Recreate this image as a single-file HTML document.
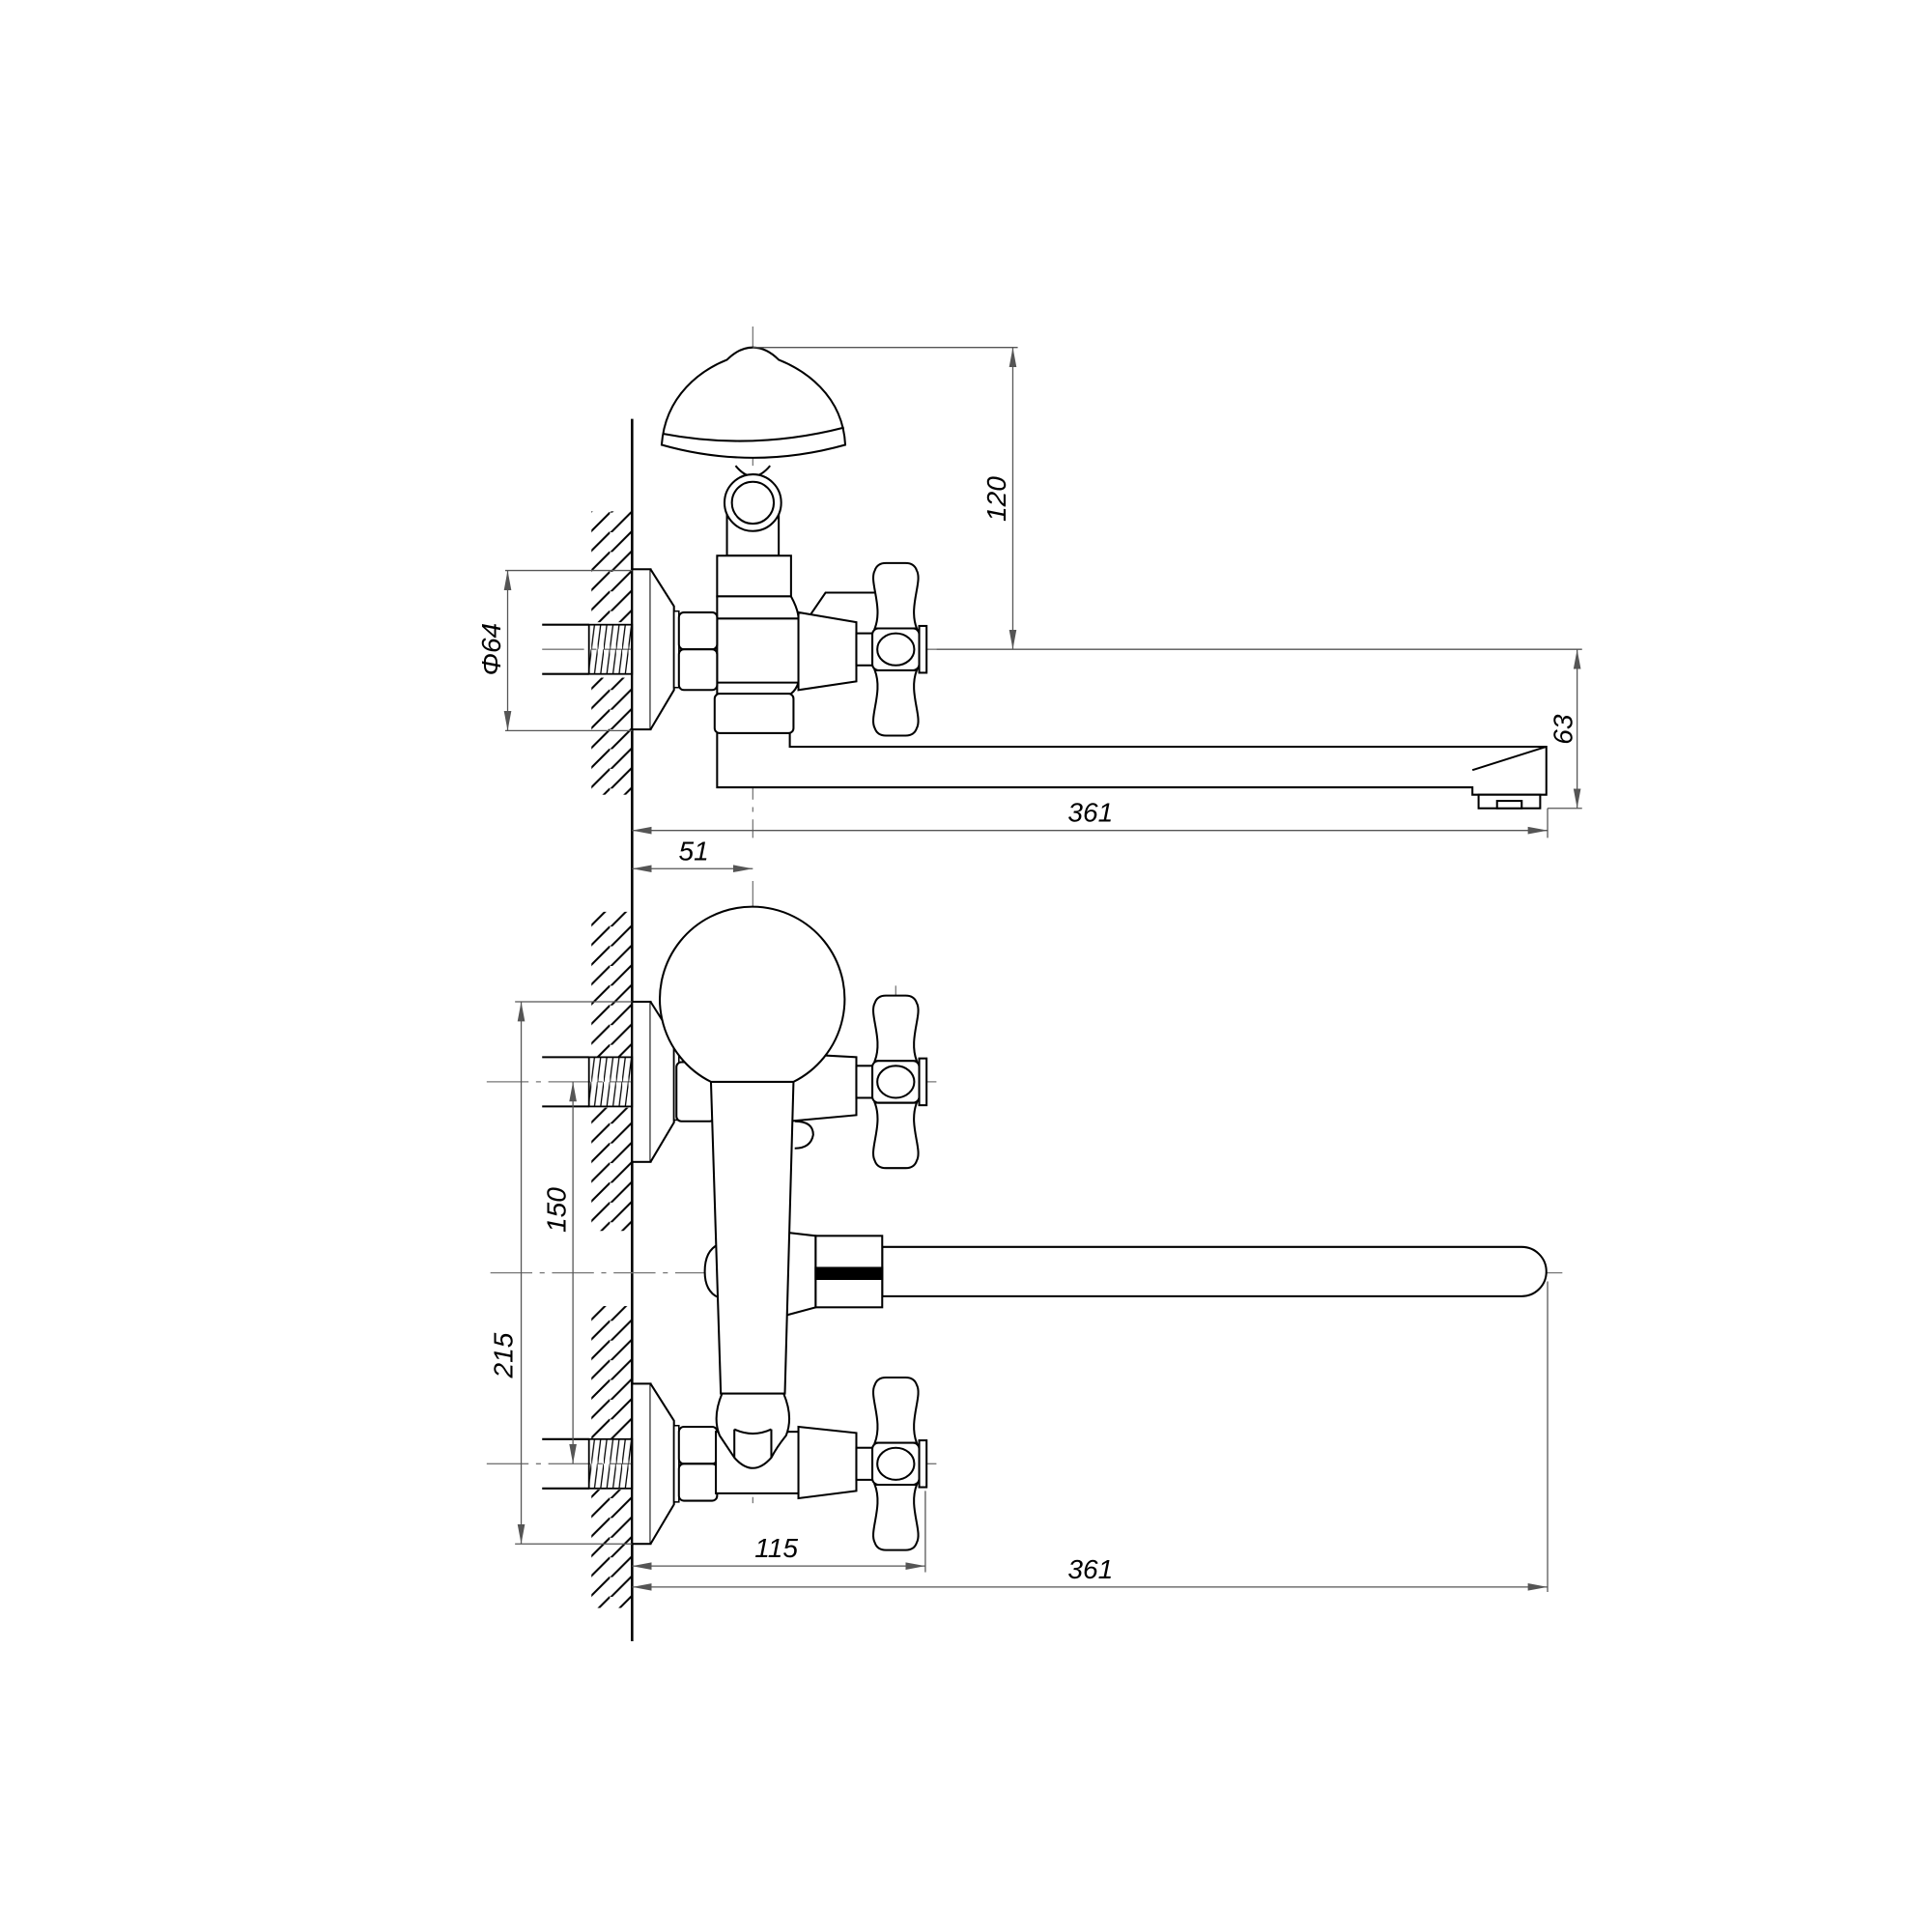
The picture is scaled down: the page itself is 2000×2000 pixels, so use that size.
<!DOCTYPE html>
<html><head><meta charset="utf-8"><style>html,body{margin:0;padding:0;background:#fff}svg{display:block}</style></head>
<body>
<svg width="2000" height="2000" viewBox="0 0 1568 1568" xmlns="http://www.w3.org/2000/svg">
<defs>
<pattern id="hat" patternUnits="userSpaceOnUse" width="33" height="16">
<line x1="0" y1="33" x2="33" y2="0" stroke="#000" stroke-width="1.6"/>
<line x1="0" y1="17" x2="33" y2="-16" stroke="#000" stroke-width="1.6"/>
<line x1="0" y1="49" x2="33" y2="16" stroke="#000" stroke-width="1.6"/>
</pattern>
<pattern id="thr" patternUnits="userSpaceOnUse" width="5" height="40">
<line x1="0" y1="40" x2="5" y2="0" stroke="#000" stroke-width="1"/>
</pattern>
<g id="cross">
<rect x="-32" y="-13" width="13" height="26" fill="#fff" stroke="#000" stroke-width="1.6"/>
<path d="M-17,-17 C-10,-35 -22,-55 -17,-64 Q-15,-70 -8,-70 L8,-70 Q15,-70 17,-64 C22,-55 10,-35 17,-17 Z" fill="#fff" stroke="#000" stroke-width="1.6"/>
<path d="M-17,17 C-10,35 -22,55 -17,64 Q-15,70 -8,70 L8,70 Q15,70 17,64 C22,55 10,35 17,17 Z" fill="#fff" stroke="#000" stroke-width="1.6"/>
<rect x="-19" y="-17" width="38" height="34" rx="5" fill="#fff" stroke="#000" stroke-width="1.6"/>
<ellipse cx="0" cy="0" rx="15" ry="13" fill="#fff" stroke="#000" stroke-width="1.6"/>
<rect x="19" y="-19" width="6" height="38" fill="#fff" stroke="#000" stroke-width="1.6"/>
</g>
<g id="esc">
<rect x="513" y="-65" width="15" height="130" fill="#fff" stroke="#000" stroke-width="1.6"/>
<path d="M528,-65 L547,-35 L547,33 L528,65" fill="#fff" stroke="#000" stroke-width="1.6"/>
<rect x="547" y="-31" width="4" height="62" fill="#fff" stroke="#000" stroke-width="1.2"/>
<rect x="478" y="-20" width="35" height="40" fill="url(#thr)" stroke="#000" stroke-width="1.4"/>
<line x1="440" y1="-20" x2="478" y2="-20" stroke="#000" stroke-width="1.6"/>
<line x1="440" y1="20" x2="478" y2="20" stroke="#000" stroke-width="1.6"/>
</g>
<marker id="ar" markerWidth="16" markerHeight="8" refX="16" refY="4" orient="auto-start-reverse" markerUnits="userSpaceOnUse"><path d="M0,1 L16,4 L0,7 Z" fill="#555"/></marker>
</defs>
<g fill="none" stroke="#000" stroke-width="1.6">
<!-- wall -->
<line x1="513" y1="340" x2="513" y2="1332" stroke-width="2"/>
</g>
<!-- hatching -->
<rect x="480" y="415" width="33" height="90" fill="url(#hat)"/>
<rect x="480" y="550" width="33" height="95" fill="url(#hat)"/>
<rect x="480" y="740" width="33" height="118" fill="url(#hat)"/>
<rect x="480" y="899" width="33" height="100" fill="url(#hat)"/>
<rect x="480" y="1060" width="33" height="108" fill="url(#hat)"/>
<rect x="480" y="1209" width="33" height="96" fill="url(#hat)"/>

<!-- centerlines -->
<g stroke="#777" stroke-width="1" fill="none" stroke-dasharray="34 6 4 6">
<line x1="611" y1="265" x2="611" y2="680"/>
<line x1="440" y1="527" x2="760" y2="527"/>
<line x1="611" y1="715" x2="611" y2="1220"/>
<line x1="395" y1="878" x2="760" y2="878"/>
<line x1="395" y1="1188" x2="760" y2="1188"/>
<line x1="398" y1="1033" x2="1268" y2="1033"/>
<line x1="727" y1="800" x2="727" y2="945"/>
</g>

<!-- TOP VIEW -->
<g transform="translate(0,527)"><use href="#esc"/></g>
<g fill="#fff" stroke="#000" stroke-width="1.6">
<!-- spout -->
<path d="M641,595 L641,606 L1255,606 L1255,645 L1195,645 L1195,639 L582,639 L582,595"/>
<line x1="1195" y1="625" x2="1255" y2="606"/>
<rect x="1200" y="645" width="50" height="11"/>
<rect x="1215" y="650" width="20" height="6"/>
<!-- stem & ring -->
<rect x="590" y="418" width="42" height="33"/>
<path d="M597,378 Q611,395 625,378"/>
<circle cx="611" cy="408" r="23"/>
<circle cx="611" cy="408" r="17"/>
<!-- dome -->
<path d="M537,361 C540,320 570,300 590,292 Q600,282 611,282 Q622,282 632,292 C652,300 684,320 686,361 Q611,382 537,361 Z"/>
<path d="M538,352 Q611,366 685,347" fill="none"/>
<!-- body -->
<rect x="582" y="451" width="60" height="33"/>
<path d="M582,484 L642,484 Q648,495 648,502 L648,554 Q646,560 642,563 L582,563 Z"/>
<rect x="580" y="563" width="64" height="32" rx="4"/>
<line x1="582" y1="502" x2="648" y2="502"/>
<line x1="582" y1="554" x2="648" y2="554"/>
<!-- nut -->
<rect x="551" y="497" width="31" height="30" rx="4"/>
<rect x="551" y="527" width="31" height="33" rx="4"/>
<!-- upper angled piece -->
<path d="M657,500 L670,481 L713,481"/>
<!-- valve cone -->
<path d="M648,497 L695,505 L695,553 L648,560 Z"/>
</g>
<g transform="translate(727,527)"><use href="#cross"/></g>

<!-- BOTTOM VIEW -->
<g transform="translate(0,878)"><use href="#esc"/></g>
<g transform="translate(0,1188)"><use href="#esc"/></g>
<g fill="#fff" stroke="#000" stroke-width="1.6">
<!-- spout -->
<path d="M716,1012 L1235,1012 A20,20 0 0 1 1235,1052 L716,1052 Z"/>
<path d="M636,1000 L662,1003 L662,1061 L636,1068 Z"/>
<rect x="662" y="1003" width="54" height="58"/>
<rect x="662" y="1029" width="54" height="9" fill="#000"/>
<!-- diverter knob -->
<path d="M583,1010 Q572,1015 572,1032 Q572,1048 583,1053"/>
<!-- upper nut -->
<rect x="549" y="862" width="31" height="48" rx="4"/>
<!-- upper valve cone -->
<path d="M640,855 L695,858 L695,905 L640,910 Z"/>
<path d="M645,910 Q660,910 660,921 Q658,932 645,932"/>
<!-- lower valve body -->
<rect x="551" y="1158" width="31" height="30" rx="4"/>
<rect x="551" y="1188" width="31" height="30" rx="4"/>
<rect x="581" y="1162" width="67" height="50"/>
<path d="M648,1158 L695,1163 L695,1210 L648,1216 Z"/>
<!-- body -->
<path d="M577,878 L585,1131 L637,1131 L644,878 Z"/>
<path d="M586,1131 Q578,1150 584,1165 Q594,1180 596,1183 Q611,1200 626,1183 Q630,1175 638,1165 Q644,1150 636,1131 Z"/>
<path d="M596,1160 Q611,1167 626,1160" fill="none"/>
<line x1="596" y1="1183" x2="596" y2="1160"/>
<line x1="626" y1="1183" x2="626" y2="1160"/>
<!-- lever -->
<path d="M577,878 A75,75 0 1 1 644,878 Z"/>
</g>
<g transform="translate(727,878)"><use href="#cross"/></g>
<g transform="translate(727,1188)"><use href="#cross"/></g>

<!-- DIMENSIONS -->
<g stroke="#555" stroke-width="1" fill="none">
<line x1="611" y1="282" x2="826" y2="282"/>
<line x1="822" y1="282" x2="822" y2="527" marker-start="url(#ar)" marker-end="url(#ar)"/>
<line x1="760" y1="527" x2="1284" y2="527"/>
<line x1="1256" y1="656" x2="1284" y2="656"/>
<line x1="1280" y1="527" x2="1280" y2="656" marker-start="url(#ar)" marker-end="url(#ar)"/>
<line x1="410" y1="463" x2="513" y2="463"/>
<line x1="410" y1="593" x2="513" y2="593"/>
<line x1="412" y1="463" x2="412" y2="593" marker-start="url(#ar)" marker-end="url(#ar)"/>
<line x1="1256" y1="656" x2="1256" y2="680"/>
<line x1="513" y1="674" x2="1256" y2="674" marker-start="url(#ar)" marker-end="url(#ar)"/>
<line x1="513" y1="705" x2="611" y2="705" marker-start="url(#ar)" marker-end="url(#ar)"/>
<line x1="418" y1="813" x2="513" y2="813"/>
<line x1="418" y1="1253" x2="513" y2="1253"/>
<line x1="423" y1="813" x2="423" y2="1253" marker-start="url(#ar)" marker-end="url(#ar)"/>
<line x1="465" y1="878" x2="465" y2="1188" marker-start="url(#ar)" marker-end="url(#ar)"/>
<line x1="751" y1="1210" x2="751" y2="1276"/>
<line x1="513" y1="1271" x2="751" y2="1271" marker-start="url(#ar)" marker-end="url(#ar)"/>
<line x1="1256" y1="1040" x2="1256" y2="1292"/>
<line x1="513" y1="1288" x2="1256" y2="1288" marker-start="url(#ar)" marker-end="url(#ar)"/>
</g>
<g font-family="Liberation Sans, sans-serif" font-size="22" font-style="italic" fill="#000" text-anchor="middle">
<text x="0" y="0" transform="translate(816,405) rotate(-90)">120</text>
<text x="0" y="0" transform="translate(1276,592) rotate(-90)">63</text>
<text x="0" y="0" transform="translate(406,527) rotate(-90)">Φ64</text>
<text x="885" y="667">361</text>
<text x="563" y="698">51</text>
<text x="0" y="0" transform="translate(416,1100) rotate(-90)">215</text>
<text x="0" y="0" transform="translate(459,982) rotate(-90)">150</text>
<text x="630" y="1264">115</text>
<text x="885" y="1281">361</text>
</g>
</svg>
</body></html>
